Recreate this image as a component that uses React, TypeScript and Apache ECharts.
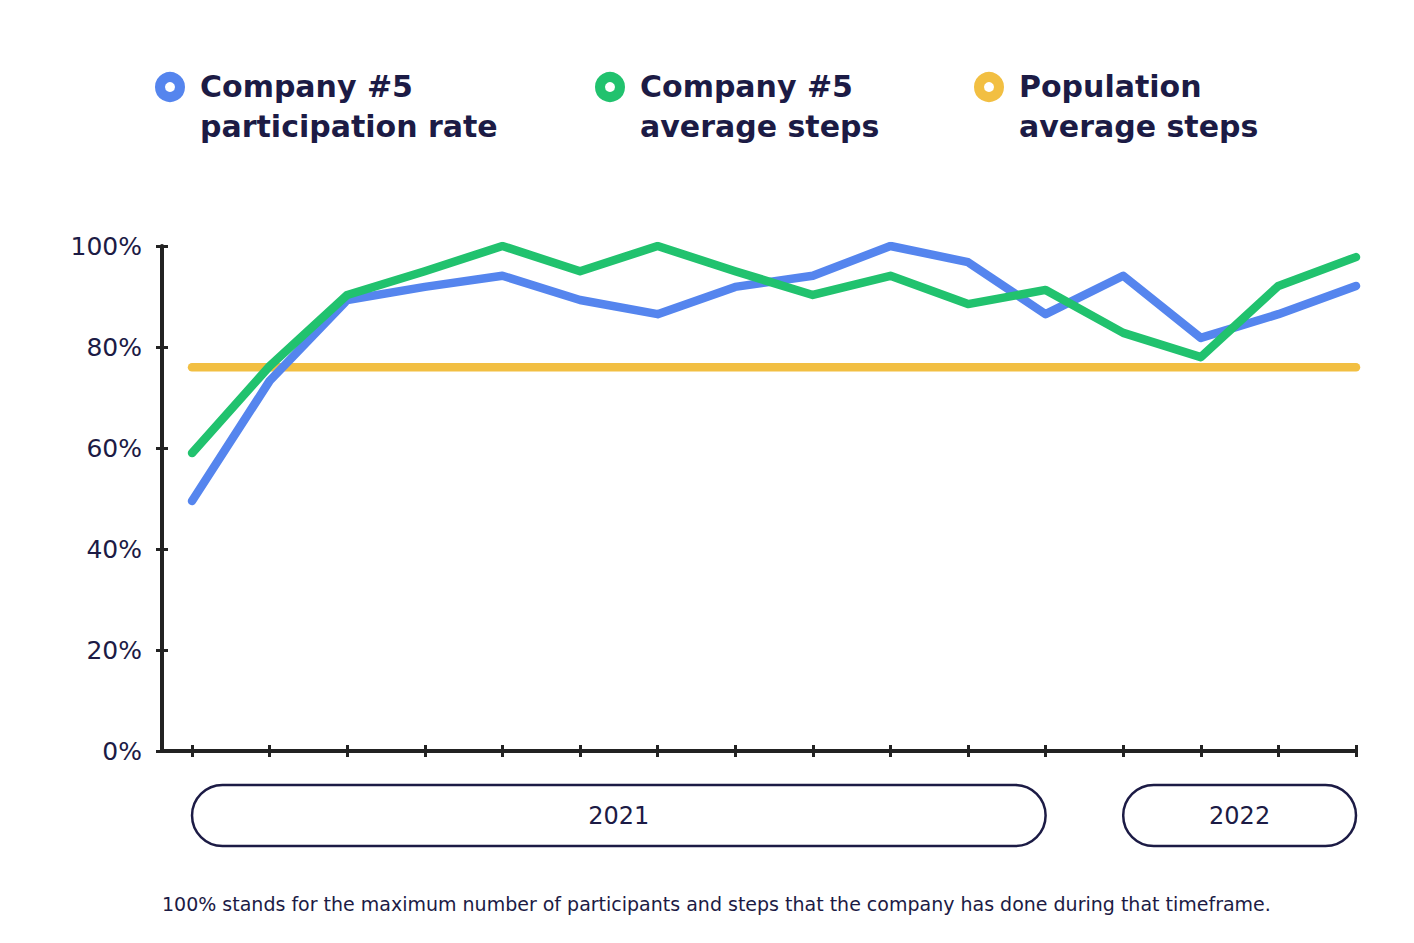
import React, { useEffect, useRef } from 'react';
import * as echarts from 'echarts';

const periods = [0, 1, 2, 3, 4, 5, 6, 7, 8, 9, 10, 11, 12, 13, 14, 15];
const participationRate = [49.5, 73.3, 89.3, 91.9, 94.1, 89.3, 86.5, 91.9, 94.1, 100, 96.8, 86.5, 94.1, 81.8, 86.5, 92.1];
const companySteps = [59, 76.2, 90.3, 95, 100, 95, 100, 95, 90.3, 94.1, 88.5, 91.3, 82.8, 78, 92.1, 97.8];
const populationSteps = [76, 76, 76, 76, 76, 76, 76, 76, 76, 76, 76, 76, 76, 76, 76, 76];
const yearLabels = ['2021', '2022'];
const yearStart = [0, 12];
const yearEnd = [11, 15];
const legendNames = ['Company #5\nparticipation rate', 'Company #5\naverage steps', 'Population\naverage steps'];
const footnote = '100% stands for the maximum number of participants and steps that the company has done during that timeframe.';

const NAVY = '#1c1b45';
const AXIS = '#222222';
const BLUE = '#5585ee';
const GREEN = '#21c26e';
const YELLOW = '#f2bf42';
const FONT = '"DejaVu Sans", sans-serif';

export default function App() {
  const ref = useRef<HTMLDivElement>(null);
  useEffect(() => {
    document.body.style.margin = '0';
    const chart = echarts.init(ref.current!, undefined, { renderer: 'svg' });
    const toPairs = (arr: number[]) => arr.map((v, i) => [periods[i], v]);
    const lineSeries = (name: string, data: number[], color: string) => ({
      name,
      type: 'line',
      data: toPairs(data),
      symbol: 'none',
      lineStyle: { color, width: 8.5, cap: 'round', join: 'round' },
      itemStyle: { color },
      silent: true,
    });
    const xBase = {
      type: 'value',
      min: -0.387,
      max: 15,
      position: 'bottom',
      offset: 0,
      splitLine: { show: false },
      axisLabel: { show: false },
    };
    const yBase = {
      type: 'value',
      min: 0,
      max: 100,
      interval: 20,
      position: 'left',
      offset: 0,
      splitLine: { show: false },
    };
    chart.setOption({
      animation: false,
      backgroundColor: '#ffffff',
      grid: { left: 162, right: 58, top: 246, bottom: 192, containLabel: false },
      xAxis: [
        {
          ...xBase,
          axisLine: { show: true, onZero: false, lineStyle: { color: AXIS, width: 4 } },
          axisTick: { show: true, customValues: periods, length: 6, lineStyle: { color: AXIS, width: 3 } },
        },
        {
          ...xBase,
          axisLine: { show: false, onZero: false },
          axisTick: { show: true, inside: true, customValues: periods, length: 6, lineStyle: { color: AXIS, width: 3 } },
        },
      ],
      yAxis: [
        {
          ...yBase,
          axisLine: { show: true, onZero: false, lineStyle: { color: AXIS, width: 4 } },
          axisTick: { show: true, length: 6, lineStyle: { color: AXIS, width: 3 } },
          axisLabel: { formatter: '{value}%', fontSize: 25, color: NAVY, margin: 20, fontFamily: FONT },
        },
        {
          ...yBase,
          axisLine: { show: false, onZero: false },
          axisTick: { show: true, inside: true, length: 6, lineStyle: { color: AXIS, width: 3 } },
          axisLabel: { show: false },
        },
      ],
      series: [
        lineSeries(legendNames[2], populationSteps, YELLOW),
        lineSeries(legendNames[0], participationRate, BLUE),
        lineSeries(legendNames[1], companySteps, GREEN),
      ],
    });

    const legendColors = [BLUE, GREEN, YELLOW];
    const legendX = [170, 610, 989];
    const legendItems = legendNames.map((name, i) => ({
      type: 'group',
      children: [
        {
          type: 'circle',
          shape: { cx: legendX[i], cy: 87, r: 10 },
          style: { fill: '#ffffff', stroke: legendColors[i], lineWidth: 10 },
        },
        {
          type: 'text',
          x: legendX[i] + 30,
          y: 66,
          style: { text: name, font: `bold 30px ${FONT}`, lineHeight: 40, fill: NAVY, textVerticalAlign: 'top' },
        },
      ],
    }));

    const yearItems = yearLabels.map((label, i) => {
      const x0 = chart.convertToPixel({ xAxisIndex: 0 }, yearStart[i]) as number;
      const x1 = chart.convertToPixel({ xAxisIndex: 0 }, yearEnd[i]) as number;
      return {
        type: 'group',
        children: [
          {
            type: 'rect',
            shape: { x: x0, y: 785, width: x1 - x0, height: 61, r: 30.5 },
            style: { fill: 'none', stroke: NAVY, lineWidth: 2.5 },
          },
          {
            type: 'text',
            x: (x0 + x1) / 2,
            y: 816,
            style: { text: label, font: `24px ${FONT}`, fill: NAVY, align: 'center', verticalAlign: 'middle' },
          },
        ],
      };
    });

    chart.setOption({
      graphic: [
        ...legendItems,
        ...yearItems,
        {
          type: 'text',
          x: 162,
          y: 904,
          style: { text: footnote, font: `19px ${FONT}`, fill: NAVY, verticalAlign: 'middle' },
        },
      ],
    });
    return () => chart.dispose();
  }, []);
  return <div ref={ref} style={{ position: 'fixed', left: 0, top: 0, width: 1414, height: 943, background: '#fff' }} />;
}
